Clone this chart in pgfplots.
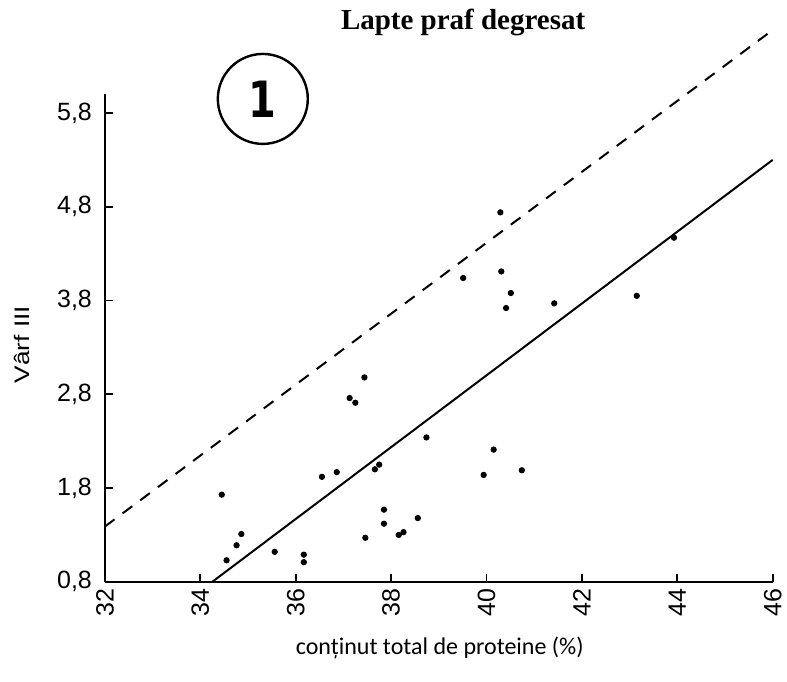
\documentclass[border=0pt]{standalone}
\usepackage{pgfplots}
\pgfplotsset{compat=1.18}
\usepackage{fontspec}
\setmainfont{Liberation Sans}
\newfontfamily\titlefont{Liberation Serif}
\newfontfamily\calibri{Carlito}
\newfontfamily\dejavu{DejaVu Sans}
\begin{document}
\begin{tikzpicture}
\begin{axis}[
  scale only axis,
  width=334pt, height=243.9pt,
  xmin=32, xmax=46, ymin=0.8, ymax=6.0,
  axis x line*=bottom, axis y line*=left,
  axis line style={line width=1pt, -},
  clip=false,
  xtick={32,34,...,46},
  ytick={0.8,1.8,2.8,3.8,4.8,5.8},
  tick align=inside,
  major tick length=4pt,
  tick style={line width=0.9pt, black},
  /pgf/number format/assume math mode=true,
  yticklabel style={font=\fontsize{12.5}{14}\selectfont, xshift=-3pt, /pgf/number format/.cd, use comma, fixed, fixed zerofill, precision=1},
  xticklabel style={font=\fontsize{12.5}{14}\selectfont, rotate=90, anchor=east},
]
\addplot[black, line width=1pt] coordinates {(34.25,0.8) (46,5.30)};
\addplot[black, line width=1pt, dash pattern=on 6pt off 5pt] coordinates {(32,1.39) (46,6.685)};
\addplot[only marks, mark=*, mark size=1.35pt, black] coordinates {
(34.45,1.73) (34.86,1.31) (34.76,1.19) (34.55,1.03) (35.56,1.12)
(36.17,1.09) (36.17,1.01) (36.55,1.92) (36.86,1.97) (37.13,2.76)
(37.25,2.71) (37.44,2.98) (37.66,2.00) (37.75,2.05) (37.85,1.57)
(37.85,1.42) (37.46,1.27) (38.16,1.30) (38.26,1.33) (38.56,1.48)
(38.74,2.34) (39.51,4.04) (39.94,1.94) (40.15,2.21) (40.29,4.74)
(40.31,4.11) (40.41,3.72) (40.51,3.88) (40.74,1.99) (41.42,3.77)
(43.15,3.85) (43.93,4.47)
};
\node[draw, circle, line width=1.2pt, minimum width=45pt, inner sep=0pt,
  font=\dejavu\fontsize{25}{25}\selectfont\bfseries] at (axis cs:35.31,5.95) {\scalebox{0.8}[1]{1}};
\node[font=\titlefont\fontsize{14.5}{16}\selectfont\bfseries] at (axis cs:39.51,6.77) {Lapte praf degresat};
\node[font=\fontsize{10.5}{12}\selectfont, rotate=90] at (axis cs:30.26,3.33) {\scalebox{1.25}[1]{Vârf III}};
\node[font=\calibri\fontsize{12}{14}\selectfont] at (axis cs:39.02,0.10) {conținut total de proteine (\%)};
\coordinate (bl) at (axis cs:29.80,-0.266);
\coordinate (tr) at (axis cs:46.30,7.005);
\end{axis}
\pgfresetboundingbox
\path[use as bounding box] (bl) rectangle (tr);
\end{tikzpicture}
\end{document}
